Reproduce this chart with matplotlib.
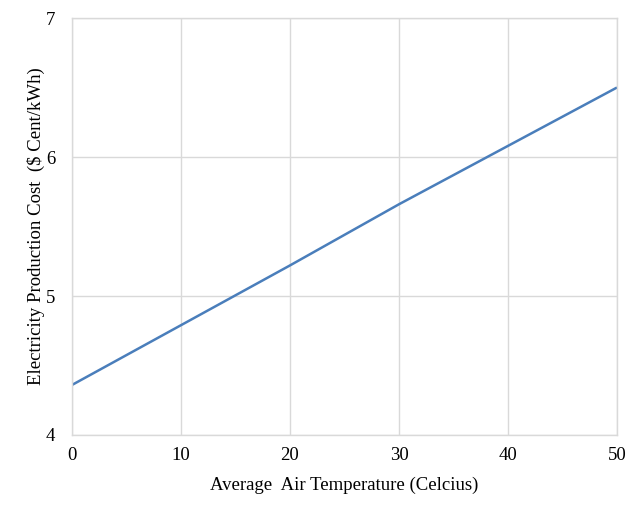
import matplotlib.pyplot as plt

plt.rcParams['font.family'] = ['Liberation Serif', 'DejaVu Serif']

# Data
temperature = [0, 10, 20, 30, 40, 50]
cost = [4.36, 4.79, 5.22, 5.66, 6.08, 6.50]

x_ticks = [0, 10, 20, 30, 40, 50]
y_ticks = [4, 5, 6, 7]

fig = plt.figure(figsize=(6.4, 5.09), dpi=100)
ax = fig.add_axes([0.1125, 0.1454, 0.8515, 0.8192])

ax.plot(temperature, cost, color='#4a7ebb', linewidth=1.8, solid_capstyle='butt')

ax.set_xlim(0, 50)
ax.set_ylim(4, 7)
ax.set_xticks(x_ticks)
ax.set_yticks(y_ticks)
ax.grid(True, color='#d9d9d9', linewidth=1.0)
ax.set_axisbelow(True)
for s in ax.spines.values():
    s.set_color('#d9d9d9')
    s.set_linewidth(1.0)
ax.tick_params(length=0, labelsize=13.5, pad=9)
ax.tick_params(axis='y', pad=12)

ax.set_xlabel('Average  Air Temperature (Celcius)', fontsize=13.5, labelpad=9)
ax.set_ylabel('Electricity Production Cost  ($ Cent/kWh)', fontsize=13.5, labelpad=1)

fig.savefig('out.png', dpi=100)
